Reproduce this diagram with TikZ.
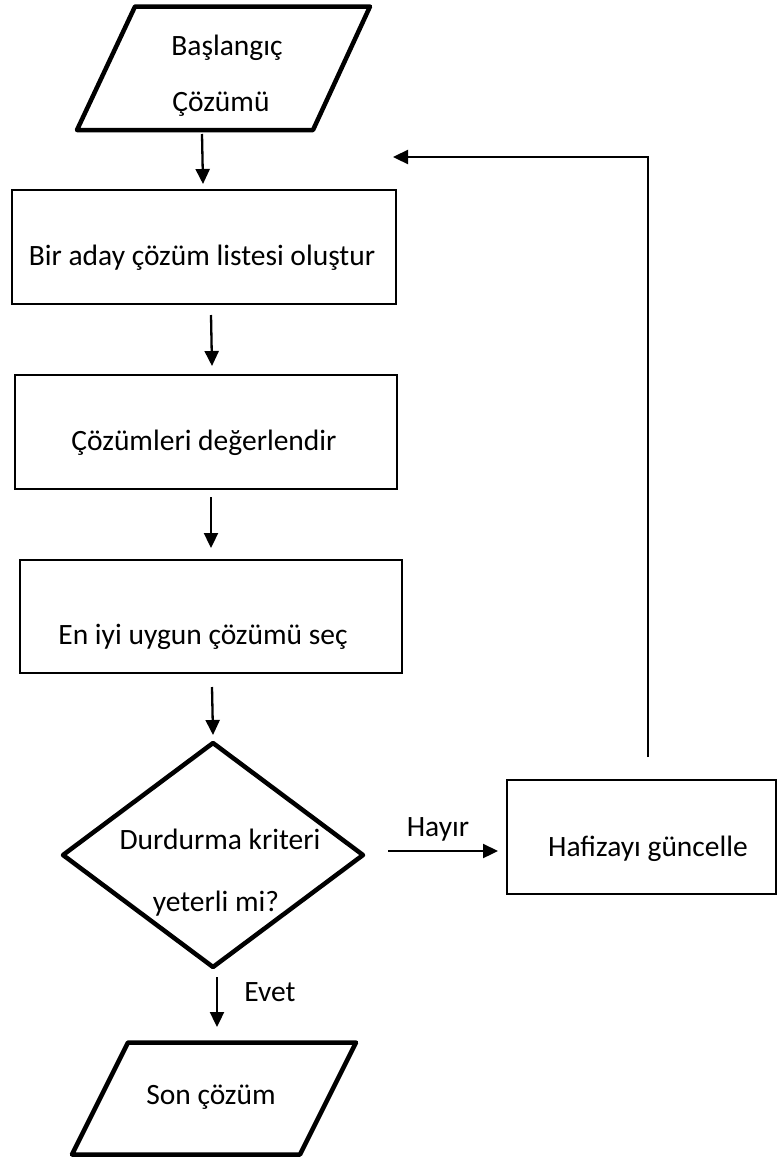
\documentclass[tikz,border=0pt]{standalone}
\usepackage{fontspec}
\setmainfont{Carlito}
\usetikzlibrary{shapes.geometric,arrows.meta,calc}

\begin{document}
\begin{tikzpicture}[x=1pt,y=-1pt,
  every node/.style={outer sep=0pt, inner sep=0pt},
  txt/.style={anchor=base, font=\fontsize{29.5}{35}\selectfont},
  procbox/.style={draw, line width=1.4pt, minimum height=114pt},
  ioline/.style={draw, line width=4.5pt, line join=round},
  decbox/.style={diamond, draw, line width=4.5pt, line join=round},
  arr/.style={line width=2.3pt, -{Triangle[length=15pt,width=14pt]}},
]
\useasboundingbox (0,0) rectangle (777,1157);

% input / output parallelograms (frame node + slanted outline)
\node[minimum width=293pt, minimum height=123.5pt] (start) at (223.5,68.25) {};
\draw[ioline] (start.south west) -- ($(start.north west)+(58,0)$)
  -- (start.north east) -- ($(start.south east)+(-57,0)$) -- cycle;
\node[txt] (starta) at (227,55) {Başlangıç};
\node[txt] (startb) at (221,111) {Çözümü};

\node[minimum width=284pt, minimum height=112pt] (finish) at (214,1098.5) {};
\draw[ioline] (finish.south west) -- ($(finish.north west)+(56,0)$)
  -- (finish.north east) -- ($(finish.south east)+(-56,0)$) -- cycle;
\node[txt] (finishtxt) at (211,1104) {Son çözüm};

% process boxes
\node[procbox, minimum width=384pt] (gen) at (204,247) {};
\node[txt] (gentxt) at (202,265) {Bir aday çözüm listesi oluştur};

\node[procbox, minimum width=382pt] (eval) at (206,432) {};
\node[txt] (evaltxt) at (204,450) {Çözümleri değerlendir};

\node[procbox, minimum width=382pt, minimum height=113pt] (pick) at (211,616.5) {};
\node[txt] (picktxt) at (203,644) {En iyi uygun çözümü seç};

\node[procbox, minimum width=269pt] (mem) at (641.5,837) {};
\node[txt] (memtxt) at (648,856) {Hafizayı güncelle};

% decision
\node[decbox, minimum width=300pt, minimum height=224pt] (dec) at (213,855) {};
\node[txt] (deca) at (220,849) {Durdurma kriteri};
\node[txt] (decb) at (216,911) {yeterli mi?};

% connectors
\draw[arr] ($(start.south)+(-21.5,4)$) -- ($(gen.north)+(-1,-6)$);
\draw[arr] ($(gen.south)+(7,11)$) -- ($(eval.north)+(6,-9)$);
\draw[arr] ($(eval.south)+(5,8)$) -- ($(pick.north)+(0,-12)$);
\draw[arr] ($(pick.south)+(1,14)$) -- ($(dec.north)+(0,-8)$);
\draw[arr] ($(dec.south)+(4,10)$) -- ($(finish.north)+(3,-15.5)$);
\node[txt] (yes) at (270,1001) {Evet};

\draw[arr] ($(dec.east)+(25,-4)$) -- ($(mem.west)+(-9,14)$);
\node[txt] (no) at (438,836) {Hayır};

% feedback loop back to the top
\coordinate (loopfoot) at ($(mem.north)+(6.5,-23)$);
\coordinate (looptip) at ($(gen.north east)+(-3,-33)$);
\draw[arr] (loopfoot) |- (looptip);
\end{tikzpicture}
\end{document}
